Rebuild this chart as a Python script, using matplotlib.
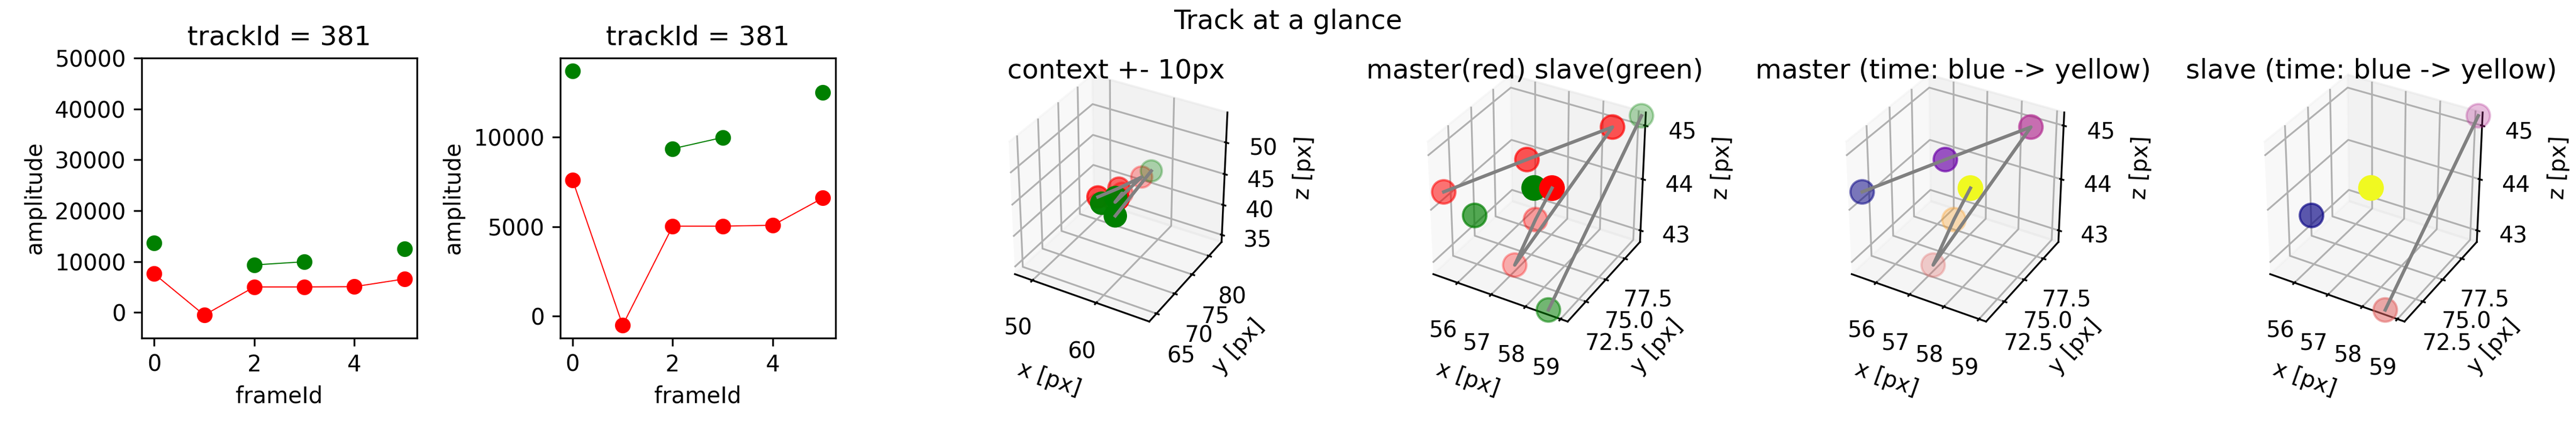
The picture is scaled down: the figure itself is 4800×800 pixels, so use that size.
import numpy as np
import matplotlib
matplotlib.use("Agg")
import matplotlib.pyplot as plt

# amplitude per frame (nan = slave not detected in that frame)
track_id = 381
frame_ids = np.array([0, 1, 2, 3, 4, 5])
amp_master = np.array([7600, -500, 5030, 5030, 5080, 6600])
amp_slave = np.array([13700, np.nan, 9350, 9980, np.nan, 12500])

# 3D positions in px
master_x = np.array([55.34, 57.14, 58.75, 56.92, 57.19, 58.44])
master_y = np.array([71.50, 73.98, 77.36, 73.34, 74.76, 71.54])
master_z = np.array([44.18, 44.77, 45.19, 42.82, 43.54, 44.87])
slave_x = np.array([56.52, np.nan, 59.12, 58.61, np.nan, 57.87])
slave_y = np.array([70.49, np.nan, 79.37, 70.49, np.nan, 71.86])
slave_z = np.array([44.14, np.nan, 45.19, 42.82, np.nan, 44.71])

context_px = 10


def padded(*arrays):
    vals = np.concatenate(arrays)
    lo, hi = np.nanmin(vals), np.nanmax(vals)
    d = (hi - lo) / 48.0
    return lo - d, hi + d


def style_3d(ax, title):
    ax.set_title(title, y=0.962)
    ax.set_xlabel("x [px]")
    ax.set_ylabel("y [px]")
    ax.set_zlabel("z [px]")
    ax.view_init(elev=33, azim=-60)
    ax.set_box_aspect((1, 1, 1), zoom=0.95)


fig = plt.figure(figsize=(16, 8 / 3), dpi=300)
fig.subplots_adjust(left=0.055, right=0.974, bottom=0.214, top=0.865, wspace=0.52)
fig.suptitle("Track at a glance")

# amplitude panels
for i in range(2):
    ax = fig.add_subplot(1, 6, i + 1)
    ax.plot(frame_ids, amp_master, "o-", color="red", lw=0.5)
    ax.plot(frame_ids, amp_slave, "o-", color="green", lw=0.5)
    if i == 0:
        ax.set_ylim(-5000, 50000)
    ax.set_title("trackId = %d" % track_id)
    ax.set_xlabel("frameId")
    ax.set_ylabel("amplitude")

ok = ~np.isnan(slave_x)
xlim = padded(master_x, slave_x)
ylim = padded(master_y, slave_y)
zlim = padded(master_z, slave_z)
line_kw = dict(color="gray", lw=1.5)

# context panel
ax = fig.add_subplot(1, 6, 3, projection="3d", computed_zorder=False)
ax.scatter(master_x, master_y, master_z, color="red", s=90, linewidths=1)
ax.scatter(slave_x[ok], slave_y[ok], slave_z[ok], color="green", s=90, linewidths=1)
ax.plot(master_x, master_y, master_z, **line_kw)
ax.plot(slave_x, slave_y, slave_z, **line_kw)
cx = np.nanmean(np.concatenate([master_x, slave_x]))
cy = np.nanmean(np.concatenate([master_y, slave_y]))
cz = np.nanmean(np.concatenate([master_z, slave_z]))
pad = 2 * context_px / 48.0
ax.set_xlim(cx - context_px - pad, cx + context_px + pad)
ax.set_ylim(cy - context_px - pad, cy + context_px + pad)
ax.set_zlim(cz - context_px - pad, cz + context_px + pad)
ax.set_xticks([50, 60])
ax.set_yticks([65, 70, 75, 80])
ax.set_zticks([35, 40, 45, 50])
style_3d(ax, "context +- %dpx" % context_px)

# master + slave
ax = fig.add_subplot(1, 6, 4, projection="3d", computed_zorder=False)
ax.scatter(slave_x[ok], slave_y[ok], slave_z[ok], color="green", s=110, linewidths=1)
ax.scatter(master_x, master_y, master_z, color="red", s=110, linewidths=1)
ax.plot(master_x, master_y, master_z, **line_kw)
ax.plot(slave_x, slave_y, slave_z, **line_kw)
style_3d(ax, "master(red) slave(green)")
axes_ms = [ax]

# master coloured by time
ax = fig.add_subplot(1, 6, 5, projection="3d", computed_zorder=False)
ax.scatter(master_x, master_y, master_z, c=frame_ids, cmap="plasma",
           vmin=0, vmax=5, s=110, linewidths=1)
ax.plot(master_x, master_y, master_z, **line_kw)
style_3d(ax, "master (time: blue -> yellow)")
axes_ms.append(ax)

# slave coloured by time
ax = fig.add_subplot(1, 6, 6, projection="3d", computed_zorder=False)
ax.scatter(slave_x[ok], slave_y[ok], slave_z[ok], c=frame_ids[ok], cmap="plasma",
           vmin=0, vmax=5, s=110, linewidths=1)
ax.plot(slave_x, slave_y, slave_z, **line_kw)
style_3d(ax, "slave (time: blue -> yellow)")
axes_ms.append(ax)

for ax in axes_ms:
    ax.set_xlim(xlim)
    ax.set_ylim(ylim)
    ax.set_zlim(zlim)
    ax.set_xticks([56, 57, 58, 59])
    ax.set_yticks([72.5, 75.0, 77.5])
    ax.set_zticks([43, 44, 45])

plt.savefig("out.png", dpi=300)
